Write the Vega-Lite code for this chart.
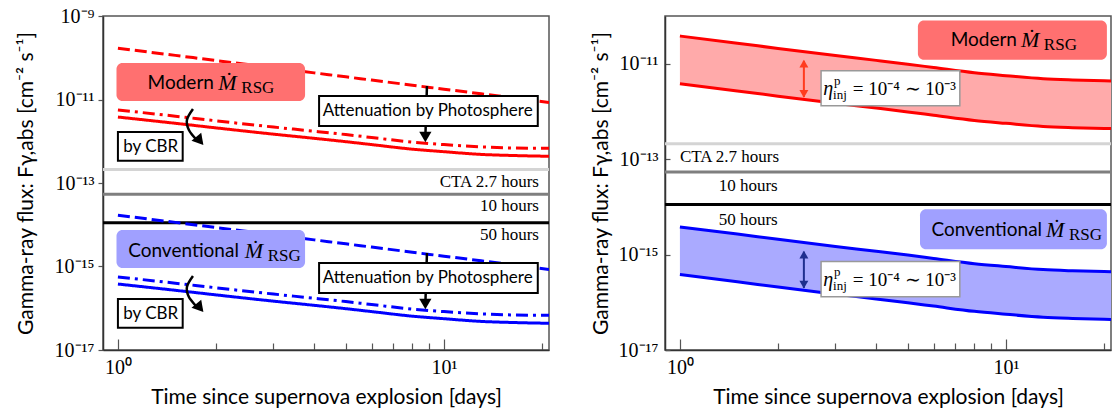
{
"$schema":"https://vega.github.io/schema/vega-lite/v6.json",
"padding":{"left":14,"top":5,"right":0,"bottom":0},
"spacing":37,
"config":{
 "view":{"stroke":"#555","strokeWidth":1.5},
 "axis":{"grid":false,"domainColor":"#333","domainWidth":1.5,"tickColor":"#555","tickWidth":1.2,"labelFont":"Liberation Serif","labelFontSize":20,"labelColor":"#000","titleFont":"Lato","titleFontSize":21,"titleFontWeight":"normal","titleColor":"#000","labelOverlap":false,"labelFlush":false},
 "text":{"baseline":"middle","color":"#000"}
},
"datasets":{
 "cta":[{"F":2.1e-13,"lvl":"2.7h"},{"F":5.4e-14,"lvl":"10h"},{"F":1.12e-14,"lvl":"50h"}],
 "lines":[
  {"m":"Modern","s":"solid","t":1,"F":3.802e-12},{"m":"Modern","s":"solid","t":1.5,"F":2.692e-12},{"m":"Modern","s":"solid","t":2,"F":2.089e-12},{"m":"Modern","s":"solid","t":3,"F":1.479e-12},{"m":"Modern","s":"solid","t":4,"F":1.175e-12},{"m":"Modern","s":"solid","t":5,"F":9.772e-13},{"m":"Modern","s":"solid","t":6,"F":8.318e-13},{"m":"Modern","s":"solid","t":8,"F":6.457e-13},{"m":"Modern","s":"solid","t":10,"F":5.623e-13},{"m":"Modern","s":"solid","t":13,"F":4.842e-13},{"m":"Modern","s":"solid","t":16,"F":4.571e-13},{"m":"Modern","s":"solid","t":21,"F":4.365e-13},
  {"m":"Modern","s":"dashdot","t":1,"F":5.623e-12},{"m":"Modern","s":"dashdot","t":1.5,"F":3.981e-12},{"m":"Modern","s":"dashdot","t":2,"F":3.090e-12},{"m":"Modern","s":"dashdot","t":3,"F":2.188e-12},{"m":"Modern","s":"dashdot","t":4,"F":1.738e-12},{"m":"Modern","s":"dashdot","t":5,"F":1.445e-12},{"m":"Modern","s":"dashdot","t":6,"F":1.230e-12},{"m":"Modern","s":"dashdot","t":8,"F":9.550e-13},{"m":"Modern","s":"dashdot","t":10,"F":8.318e-13},{"m":"Modern","s":"dashdot","t":13,"F":7.328e-13},{"m":"Modern","s":"dashdot","t":16,"F":6.918e-13},{"m":"Modern","s":"dashdot","t":21,"F":6.761e-13},
  {"m":"Modern","s":"dashed","t":1,"F":1.698e-10},{"m":"Modern","s":"dashed","t":1.5,"F":1.140e-10},{"m":"Modern","s":"dashed","t":2,"F":8.590e-11},{"m":"Modern","s":"dashed","t":3,"F":5.768e-11},{"m":"Modern","s":"dashed","t":4,"F":4.345e-11},{"m":"Modern","s":"dashed","t":5,"F":3.491e-11},{"m":"Modern","s":"dashed","t":6,"F":2.917e-11},{"m":"Modern","s":"dashed","t":8,"F":2.198e-11},{"m":"Modern","s":"dashed","t":10,"F":1.766e-11},{"m":"Modern","s":"dashed","t":13,"F":1.365e-11},{"m":"Modern","s":"dashed","t":16,"F":1.112e-11},{"m":"Modern","s":"dashed","t":21,"F":8.511e-12},
  {"m":"Conventional","s":"solid","t":1,"F":3.802e-16},{"m":"Conventional","s":"solid","t":1.5,"F":2.692e-16},{"m":"Conventional","s":"solid","t":2,"F":2.089e-16},{"m":"Conventional","s":"solid","t":3,"F":1.479e-16},{"m":"Conventional","s":"solid","t":4,"F":1.175e-16},{"m":"Conventional","s":"solid","t":5,"F":9.772e-17},{"m":"Conventional","s":"solid","t":6,"F":8.318e-17},{"m":"Conventional","s":"solid","t":8,"F":6.457e-17},{"m":"Conventional","s":"solid","t":10,"F":5.623e-17},{"m":"Conventional","s":"solid","t":13,"F":4.842e-17},{"m":"Conventional","s":"solid","t":16,"F":4.571e-17},{"m":"Conventional","s":"solid","t":21,"F":4.365e-17},
  {"m":"Conventional","s":"dashdot","t":1,"F":5.623e-16},{"m":"Conventional","s":"dashdot","t":1.5,"F":3.981e-16},{"m":"Conventional","s":"dashdot","t":2,"F":3.090e-16},{"m":"Conventional","s":"dashdot","t":3,"F":2.188e-16},{"m":"Conventional","s":"dashdot","t":4,"F":1.738e-16},{"m":"Conventional","s":"dashdot","t":5,"F":1.445e-16},{"m":"Conventional","s":"dashdot","t":6,"F":1.230e-16},{"m":"Conventional","s":"dashdot","t":8,"F":9.550e-17},{"m":"Conventional","s":"dashdot","t":10,"F":8.318e-17},{"m":"Conventional","s":"dashdot","t":13,"F":7.328e-17},{"m":"Conventional","s":"dashdot","t":16,"F":6.918e-17},{"m":"Conventional","s":"dashdot","t":21,"F":6.761e-17},
  {"m":"Conventional","s":"dashed","t":1,"F":1.698e-14},{"m":"Conventional","s":"dashed","t":1.5,"F":1.140e-14},{"m":"Conventional","s":"dashed","t":2,"F":8.590e-15},{"m":"Conventional","s":"dashed","t":3,"F":5.768e-15},{"m":"Conventional","s":"dashed","t":4,"F":4.345e-15},{"m":"Conventional","s":"dashed","t":5,"F":3.491e-15},{"m":"Conventional","s":"dashed","t":6,"F":2.917e-15},{"m":"Conventional","s":"dashed","t":8,"F":2.198e-15},{"m":"Conventional","s":"dashed","t":10,"F":1.766e-15},{"m":"Conventional","s":"dashed","t":13,"F":1.365e-15},{"m":"Conventional","s":"dashed","t":16,"F":1.112e-15},{"m":"Conventional","s":"dashed","t":21,"F":8.511e-16}
 ],
 "band":[
  {"m":"Modern","t":1,"lo":3.802e-12,"hi":3.802e-11},{"m":"Modern","t":1.5,"lo":2.692e-12,"hi":2.692e-11},{"m":"Modern","t":2,"lo":2.089e-12,"hi":2.089e-11},{"m":"Modern","t":3,"lo":1.479e-12,"hi":1.479e-11},{"m":"Modern","t":4,"lo":1.175e-12,"hi":1.175e-11},{"m":"Modern","t":5,"lo":9.772e-13,"hi":9.772e-12},{"m":"Modern","t":6,"lo":8.318e-13,"hi":8.318e-12},{"m":"Modern","t":8,"lo":6.457e-13,"hi":6.457e-12},{"m":"Modern","t":10,"lo":5.623e-13,"hi":5.623e-12},{"m":"Modern","t":13,"lo":4.842e-13,"hi":4.842e-12},{"m":"Modern","t":16,"lo":4.571e-13,"hi":4.571e-12},{"m":"Modern","t":21,"lo":4.365e-13,"hi":4.365e-12},
  {"m":"Conventional","t":1,"lo":3.802e-16,"hi":3.802e-15},{"m":"Conventional","t":1.5,"lo":2.692e-16,"hi":2.692e-15},{"m":"Conventional","t":2,"lo":2.089e-16,"hi":2.089e-15},{"m":"Conventional","t":3,"lo":1.479e-16,"hi":1.479e-15},{"m":"Conventional","t":4,"lo":1.175e-16,"hi":1.175e-15},{"m":"Conventional","t":5,"lo":9.772e-17,"hi":9.772e-16},{"m":"Conventional","t":6,"lo":8.318e-17,"hi":8.318e-16},{"m":"Conventional","t":8,"lo":6.457e-17,"hi":6.457e-16},{"m":"Conventional","t":10,"lo":5.623e-17,"hi":5.623e-16},{"m":"Conventional","t":13,"lo":4.842e-17,"hi":4.842e-16},{"m":"Conventional","t":16,"lo":4.571e-17,"hi":4.571e-16},{"m":"Conventional","t":21,"lo":4.365e-17,"hi":4.365e-16}
 ],
 "arrL":[
  {"id":"p1","o":0,"t":8.87,"F":2.1e-11},{"id":"p1","o":1,"t":8.77,"F":1.3e-12},
  {"id":"p2","o":0,"t":8.87,"F":2.1e-15},{"id":"p2","o":1,"t":8.77,"F":1.3e-16},
  {"id":"c1","o":0,"t":1.699,"F":5.92e-12},{"id":"c1","o":1,"t":1.628,"F":3.24e-12},{"id":"c1","o":2,"t":1.651,"F":1.86e-12},{"id":"c1","o":3,"t":1.735,"F":1.13e-12},
  {"id":"c2","o":0,"t":1.699,"F":5.92e-16},{"id":"c2","o":1,"t":1.628,"F":3.24e-16},{"id":"c2","o":2,"t":1.651,"F":1.86e-16},{"id":"c2","o":3,"t":1.735,"F":1.13e-16}
 ],
 "annL":[
  {"k":"box","m":"Modern","t":0.99,"t2":3.75,"F":9.2e-12,"F2":7.48e-11},
  {"k":"box","m":"Conventional","t":0.99,"t2":3.75,"F":9.2e-16,"F2":7.48e-15},
  {"k":"wbox","t":1.0,"t2":1.58,"F":3.39e-13,"F2":1.66e-12},
  {"k":"wbox","t":1.0,"t2":1.58,"F":3.39e-17,"F2":1.66e-16},
  {"k":"wbox","t":4.14,"t2":19.4,"F":2.32e-12,"F2":1.21e-11},
  {"k":"wbox","t":4.14,"t2":19.4,"F":2.32e-16,"F2":1.21e-15},
  {"k":"hdown","t":8.77,"F":1.26e-12},
  {"k":"hdown","t":8.77,"F":1.26e-16},
  {"k":"hcurve","t":1.784,"F":1.02e-12},
  {"k":"hcurve","t":1.784,"F":1.02e-16},
  {"k":"cta","t":19.56,"F":1.05e-13,"label":"CTA 2.7 hours"},
  {"k":"cta","t":19.56,"F":2.82e-14,"label":"10 hours"},
  {"k":"cta","t":19.56,"F":5.62e-15,"label":"50 hours"},
  {"k":"note","t":1.26,"F":7.24e-13,"label":"by CBR"},
  {"k":"note","t":1.26,"F":7.24e-17,"label":"by CBR"},
  {"k":"note","t":8.92,"F":5.31e-12,"label":"Attenuation by Photosphere"},
  {"k":"note","t":8.92,"F":5.31e-16,"label":"Attenuation by Photosphere"},
  {"k":"name","t":1.97,"F":2.51e-11,"label":"Modern"},
  {"k":"name","t":2.35,"F":2.3e-15,"label":"Conventional"},
  {"k":"mdot","t":2.03,"F":2.51e-11,"label":"Ṁ"},
  {"k":"mdot","t":2.45,"F":2.3e-15,"label":"Ṁ"},
  {"k":"sub","t":2.39,"F":2.51e-11,"label":"RSG"},
  {"k":"sub","t":2.88,"F":2.3e-15,"label":"RSG"}
 ],
 "annR":[
  {"k":"box","m":"Modern","t":5.37,"t2":20.4,"F":1.21e-11,"F2":8.0e-11},
  {"k":"box","m":"Conventional","t":5.45,"t2":20.4,"F":1.29e-15,"F2":8.9e-15},
  {"k":"ebox","t":2.71,"t2":7.22,"F":1.31e-12,"F2":7.13e-12},
  {"k":"ebox","t":2.71,"t2":7.22,"F":1.31e-16,"F2":7.13e-16},
  {"k":"arrow","m":"Modern","t":2.40,"F":1.15e-11,"F2":2.0e-12},
  {"k":"arrow","m":"Conventional","t":2.40,"F":1.15e-15,"F2":2.0e-16},
  {"k":"hup","m":"Modern","t":2.40,"F":1.0e-11},
  {"k":"hup","m":"Conventional","t":2.40,"F":1.0e-15},
  {"k":"hdown","m":"Modern","t":2.40,"F":2.34e-12},
  {"k":"hdown","m":"Conventional","t":2.40,"F":2.34e-16},
  {"k":"cta1","t":1.0,"F":1.12e-13,"label":"CTA 2.7 hours"},
  {"k":"cta2","t":1.62,"F":2.75e-14,"label":"10 hours"},
  {"k":"cta2","t":1.62,"F":5.25e-15,"label":"50 hours"},
  {"k":"name","t":10.81,"F":3.16e-11,"label":"Modern"},
  {"k":"name","t":12.91,"F":3.24e-15,"label":"Conventional"},
  {"k":"mdot","t":11.13,"F":3.16e-11,"label":"Ṁ"},
  {"k":"mdot","t":13.27,"F":3.24e-15,"label":"Ṁ"},
  {"k":"sub","t":13.07,"F":3.16e-11,"label":"RSG"},
  {"k":"sub","t":15.6,"F":3.24e-15,"label":"RSG"},
  {"k":"eta","t":2.75,"F":2.99e-12,"label":"η"},
  {"k":"eta","t":2.75,"F":2.99e-16,"label":"η"},
  {"k":"sup","t":2.97,"F":2.99e-12,"label":"p"},
  {"k":"sup","t":2.97,"F":2.99e-16,"label":"p"},
  {"k":"inj","t":2.95,"F":2.99e-12,"label":"inj"},
  {"k":"inj","t":2.95,"F":2.99e-16,"label":"inj"},
  {"k":"eq","t":3.39,"F":2.99e-12,"label":"= 10⁻⁴ ∼ 10⁻³"},
  {"k":"eq","t":3.39,"F":2.99e-16,"label":"= 10⁻⁴ ∼ 10⁻³"}
 ]
},
"hconcat":[
 {
  "width":446,"height":334,
  "resolve":{"scale":{"color":"independent"}},
  "layer":[
   {"data":{"name":"cta"},"mark":{"type":"rule","strokeWidth":3},
    "encoding":{"y":{"field":"F","type":"quantitative","scale":{"type":"log","domain":[1e-17,1e-9],"nice":false}},
     "color":{"field":"lvl","type":"nominal","scale":{"domain":["2.7h","10h","50h"],"range":["#d4d4d4","#7f7f7f","#000000"]},"legend":null}}},
   {"data":{"name":"lines"},"mark":{"type":"line","strokeWidth":3,"interpolate":"monotone","clip":true},
    "encoding":{
     "x":{"field":"t","type":"quantitative","scale":{"type":"log","domain":[0.9,21],"nice":false},
      "axis":{"title":"Time since supernova explosion [days]","values":[1,2,3,4,5,6,7,8,9,10,20],"labelExpr":"datum.value == 1 ? '10⁰' : datum.value == 10 ? '10¹' : ''","tickSize":{"condition":{"test":"datum.value == 1 || datum.value == 10","value":-11},"value":-7},"labelPadding":18,"titlePadding":5}},
     "y":{"field":"F","type":"quantitative","scale":{"type":"log","domain":[1e-17,1e-9],"nice":false},
      "axis":{"title":"Gamma-ray flux: Fγ,abs [cm⁻² s⁻¹]","values":[1e-17,1e-15,1e-13,1e-11,1e-9],"labelExpr":"'10' + (round(log(datum.value)/LN10) == -9 ? '⁻⁹' : round(log(datum.value)/LN10) == -11 ? '⁻¹¹' : round(log(datum.value)/LN10) == -13 ? '⁻¹³' : round(log(datum.value)/LN10) == -15 ? '⁻¹⁵' : '⁻¹⁷')","tickSize":5,"labelPadding":4,"titlePadding":18}},
     "color":{"field":"m","type":"nominal","scale":{"domain":["Modern","Conventional"],"range":["#ff0000","#0000ff"]},"legend":null},
     "strokeDash":{"field":"s","type":"nominal","scale":{"domain":["dashed","dashdot","solid"],"range":[[12,5],[12,5,3,5],[1,0]]},"legend":null}}},
   {"data":{"name":"arrL"},"mark":{"type":"line","color":"#000","strokeWidth":2.5,"interpolate":"cardinal"},
    "encoding":{"x":{"field":"t","type":"quantitative","scale":{"type":"log","domain":[0.9,21],"nice":false}},
     "y":{"field":"F","type":"quantitative","scale":{"type":"log","domain":[1e-17,1e-9],"nice":false}},
     "detail":{"field":"id","type":"nominal"},"order":{"field":"o","type":"quantitative"}}},
   {"data":{"name":"annL"},"transform":[{"filter":"datum.k == 'box'"}],"mark":{"type":"rect","cornerRadius":6},
    "encoding":{"x":{"field":"t","type":"quantitative","scale":{"type":"log","domain":[0.9,21],"nice":false}},"x2":{"field":"t2"},
     "y":{"field":"F","type":"quantitative","scale":{"type":"log","domain":[1e-17,1e-9],"nice":false}},"y2":{"field":"F2"},
     "color":{"field":"m","type":"nominal","scale":{"domain":["Modern","Conventional"],"range":["#ff7070","#a0a0ff"]},"legend":null}}},
   {"data":{"name":"annL"},"transform":[{"filter":"datum.k == 'wbox'"}],"mark":{"type":"rect","fill":"#ffffff","stroke":"#000000","strokeWidth":2},
    "encoding":{"x":{"field":"t","type":"quantitative","scale":{"type":"log","domain":[0.9,21],"nice":false}},"x2":{"field":"t2"},
     "y":{"field":"F","type":"quantitative","scale":{"type":"log","domain":[1e-17,1e-9],"nice":false}},"y2":{"field":"F2"}}},
   {"data":{"name":"annL"},"transform":[{"filter":"datum.k == 'hdown'"}],"mark":{"type":"point","shape":"triangle-down","filled":true,"color":"#000","size":150,"opacity":1},
    "encoding":{"x":{"field":"t","type":"quantitative","scale":{"type":"log","domain":[0.9,21],"nice":false}},
     "y":{"field":"F","type":"quantitative","scale":{"type":"log","domain":[1e-17,1e-9],"nice":false}}}},
   {"data":{"name":"annL"},"transform":[{"filter":"datum.k == 'hcurve'"}],"mark":{"type":"point","shape":"triangle-right","angle":50,"filled":true,"color":"#000","size":160,"opacity":1},
    "encoding":{"x":{"field":"t","type":"quantitative","scale":{"type":"log","domain":[0.9,21],"nice":false}},
     "y":{"field":"F","type":"quantitative","scale":{"type":"log","domain":[1e-17,1e-9],"nice":false}}}},
   {"data":{"name":"annL"},"transform":[{"filter":"datum.k == 'cta'"}],"mark":{"type":"text","align":"right","font":"Liberation Serif","fontSize":17},
    "encoding":{"x":{"field":"t","type":"quantitative","scale":{"type":"log","domain":[0.9,21],"nice":false}},
     "y":{"field":"F","type":"quantitative","scale":{"type":"log","domain":[1e-17,1e-9],"nice":false}},"text":{"field":"label"}}},
   {"data":{"name":"annL"},"transform":[{"filter":"datum.k == 'note'"}],"mark":{"type":"text","align":"center","font":"Lato","fontSize":17},
    "encoding":{"x":{"field":"t","type":"quantitative","scale":{"type":"log","domain":[0.9,21],"nice":false}},
     "y":{"field":"F","type":"quantitative","scale":{"type":"log","domain":[1e-17,1e-9],"nice":false}},"text":{"field":"label"}}},
   {"data":{"name":"annL"},"transform":[{"filter":"datum.k == 'name'"}],"mark":{"type":"text","align":"right","font":"Lato","fontSize":19},
    "encoding":{"x":{"field":"t","type":"quantitative","scale":{"type":"log","domain":[0.9,21],"nice":false}},
     "y":{"field":"F","type":"quantitative","scale":{"type":"log","domain":[1e-17,1e-9],"nice":false}},"text":{"field":"label"}}},
   {"data":{"name":"annL"},"transform":[{"filter":"datum.k == 'mdot'"}],"mark":{"type":"text","align":"left","font":"Liberation Serif","fontStyle":"italic","fontSize":22},
    "encoding":{"x":{"field":"t","type":"quantitative","scale":{"type":"log","domain":[0.9,21],"nice":false}},
     "y":{"field":"F","type":"quantitative","scale":{"type":"log","domain":[1e-17,1e-9],"nice":false}},"text":{"field":"label"}}},
   {"data":{"name":"annL"},"transform":[{"filter":"datum.k == 'sub'"}],"mark":{"type":"text","align":"left","font":"Liberation Serif","fontSize":17,"dy":5},
    "encoding":{"x":{"field":"t","type":"quantitative","scale":{"type":"log","domain":[0.9,21],"nice":false}},
     "y":{"field":"F","type":"quantitative","scale":{"type":"log","domain":[1e-17,1e-9],"nice":false}},"text":{"field":"label"}}}
  ]
 },
 {
  "width":446,"height":334,
  "resolve":{"scale":{"color":"independent"}},
  "layer":[
   {"data":{"name":"cta"},"mark":{"type":"rule","strokeWidth":3},
    "encoding":{"y":{"field":"F","type":"quantitative","scale":{"type":"log","domain":[1e-17,1e-10],"nice":false}},
     "color":{"field":"lvl","type":"nominal","scale":{"domain":["2.7h","10h","50h"],"range":["#d4d4d4","#7f7f7f","#000000"]},"legend":null}}},
   {"data":{"name":"band"},"mark":{"type":"area","interpolate":"monotone","opacity":1},
    "encoding":{
     "x":{"field":"t","type":"quantitative","scale":{"type":"log","domain":[0.9,21],"nice":false},
      "axis":{"title":"Time since supernova explosion [days]","values":[1,2,3,4,5,6,7,8,9,10,20],"labelExpr":"datum.value == 1 ? '10⁰' : datum.value == 10 ? '10¹' : ''","tickSize":{"condition":{"test":"datum.value == 1 || datum.value == 10","value":-11},"value":-7},"labelPadding":18,"titlePadding":5}},
     "y":{"field":"lo","type":"quantitative","scale":{"type":"log","domain":[1e-17,1e-10],"nice":false},
      "axis":{"title":"Gamma-ray flux: Fγ,abs [cm⁻² s⁻¹]","values":[1e-17,1e-15,1e-13,1e-11],"labelExpr":"'10' + (round(log(datum.value)/LN10) == -9 ? '⁻⁹' : round(log(datum.value)/LN10) == -11 ? '⁻¹¹' : round(log(datum.value)/LN10) == -13 ? '⁻¹³' : round(log(datum.value)/LN10) == -15 ? '⁻¹⁵' : '⁻¹⁷')","tickSize":-5,"labelPadding":12,"titlePadding":7}},
     "y2":{"field":"hi"},
     "color":{"field":"m","type":"nominal","scale":{"domain":["Modern","Conventional"],"range":["#ffaaaa","#aaaaff"]},"legend":null}}},
   {"data":{"name":"band"},"mark":{"type":"line","strokeWidth":3,"interpolate":"monotone"},
    "encoding":{"x":{"field":"t","type":"quantitative","scale":{"type":"log","domain":[0.9,21],"nice":false}},
     "y":{"field":"lo","type":"quantitative","scale":{"type":"log","domain":[1e-17,1e-10],"nice":false}},
     "color":{"field":"m","type":"nominal","scale":{"domain":["Modern","Conventional"],"range":["#ff0000","#0000ff"]},"legend":null}}},
   {"data":{"name":"band"},"mark":{"type":"line","strokeWidth":3,"interpolate":"monotone"},
    "encoding":{"x":{"field":"t","type":"quantitative","scale":{"type":"log","domain":[0.9,21],"nice":false}},
     "y":{"field":"hi","type":"quantitative","scale":{"type":"log","domain":[1e-17,1e-10],"nice":false}},
     "color":{"field":"m","type":"nominal","scale":{"domain":["Modern","Conventional"],"range":["#ff0000","#0000ff"]},"legend":null}}},
   {"data":{"name":"annR"},"transform":[{"filter":"datum.k == 'box'"}],"mark":{"type":"rect","cornerRadius":6},
    "encoding":{"x":{"field":"t","type":"quantitative","scale":{"type":"log","domain":[0.9,21],"nice":false}},"x2":{"field":"t2"},
     "y":{"field":"F","type":"quantitative","scale":{"type":"log","domain":[1e-17,1e-10],"nice":false}},"y2":{"field":"F2"},
     "color":{"field":"m","type":"nominal","scale":{"domain":["Modern","Conventional"],"range":["#ff7070","#a0a0ff"]},"legend":null}}},
   {"data":{"name":"annR"},"transform":[{"filter":"datum.k == 'ebox'"}],"mark":{"type":"rect","fill":"#ffffff","stroke":"#999999","strokeWidth":1.5},
    "encoding":{"x":{"field":"t","type":"quantitative","scale":{"type":"log","domain":[0.9,21],"nice":false}},"x2":{"field":"t2"},
     "y":{"field":"F","type":"quantitative","scale":{"type":"log","domain":[1e-17,1e-10],"nice":false}},"y2":{"field":"F2"}}},
   {"data":{"name":"annR"},"transform":[{"filter":"datum.k == 'arrow'"}],"mark":{"type":"rule","strokeWidth":2},
    "encoding":{"x":{"field":"t","type":"quantitative","scale":{"type":"log","domain":[0.9,21],"nice":false}},
     "y":{"field":"F","type":"quantitative","scale":{"type":"log","domain":[1e-17,1e-10],"nice":false}},"y2":{"field":"F2"},
     "color":{"field":"m","type":"nominal","scale":{"domain":["Modern","Conventional"],"range":["#ff3b1f","#1f2f8f"]},"legend":null}}},
   {"data":{"name":"annR"},"transform":[{"filter":"datum.k == 'hup'"}],"mark":{"type":"point","shape":"triangle-up","filled":true,"size":80,"opacity":1},
    "encoding":{"x":{"field":"t","type":"quantitative","scale":{"type":"log","domain":[0.9,21],"nice":false}},
     "y":{"field":"F","type":"quantitative","scale":{"type":"log","domain":[1e-17,1e-10],"nice":false}},
     "color":{"field":"m","type":"nominal","scale":{"domain":["Modern","Conventional"],"range":["#ff3b1f","#1f2f8f"]},"legend":null}}},
   {"data":{"name":"annR"},"transform":[{"filter":"datum.k == 'hdown'"}],"mark":{"type":"point","shape":"triangle-down","filled":true,"size":80,"opacity":1},
    "encoding":{"x":{"field":"t","type":"quantitative","scale":{"type":"log","domain":[0.9,21],"nice":false}},
     "y":{"field":"F","type":"quantitative","scale":{"type":"log","domain":[1e-17,1e-10],"nice":false}},
     "color":{"field":"m","type":"nominal","scale":{"domain":["Modern","Conventional"],"range":["#ff3b1f","#1f2f8f"]},"legend":null}}},
   {"data":{"name":"annR"},"transform":[{"filter":"datum.k == 'cta1'"}],"mark":{"type":"text","align":"left","font":"Liberation Serif","fontSize":17},
    "encoding":{"x":{"field":"t","type":"quantitative","scale":{"type":"log","domain":[0.9,21],"nice":false}},
     "y":{"field":"F","type":"quantitative","scale":{"type":"log","domain":[1e-17,1e-10],"nice":false}},"text":{"field":"label"}}},
   {"data":{"name":"annR"},"transform":[{"filter":"datum.k == 'cta2'"}],"mark":{"type":"text","align":"center","font":"Liberation Serif","fontSize":17},
    "encoding":{"x":{"field":"t","type":"quantitative","scale":{"type":"log","domain":[0.9,21],"nice":false}},
     "y":{"field":"F","type":"quantitative","scale":{"type":"log","domain":[1e-17,1e-10],"nice":false}},"text":{"field":"label"}}},
   {"data":{"name":"annR"},"transform":[{"filter":"datum.k == 'name'"}],"mark":{"type":"text","align":"right","font":"Lato","fontSize":19},
    "encoding":{"x":{"field":"t","type":"quantitative","scale":{"type":"log","domain":[0.9,21],"nice":false}},
     "y":{"field":"F","type":"quantitative","scale":{"type":"log","domain":[1e-17,1e-10],"nice":false}},"text":{"field":"label"}}},
   {"data":{"name":"annR"},"transform":[{"filter":"datum.k == 'mdot'"}],"mark":{"type":"text","align":"left","font":"Liberation Serif","fontStyle":"italic","fontSize":22},
    "encoding":{"x":{"field":"t","type":"quantitative","scale":{"type":"log","domain":[0.9,21],"nice":false}},
     "y":{"field":"F","type":"quantitative","scale":{"type":"log","domain":[1e-17,1e-10],"nice":false}},"text":{"field":"label"}}},
   {"data":{"name":"annR"},"transform":[{"filter":"datum.k == 'sub'"}],"mark":{"type":"text","align":"left","font":"Liberation Serif","fontSize":17,"dy":5},
    "encoding":{"x":{"field":"t","type":"quantitative","scale":{"type":"log","domain":[0.9,21],"nice":false}},
     "y":{"field":"F","type":"quantitative","scale":{"type":"log","domain":[1e-17,1e-10],"nice":false}},"text":{"field":"label"}}},
   {"data":{"name":"annR"},"transform":[{"filter":"datum.k == 'eta'"}],"mark":{"type":"text","align":"left","font":"Liberation Serif","fontStyle":"italic","fontSize":20},
    "encoding":{"x":{"field":"t","type":"quantitative","scale":{"type":"log","domain":[0.9,21],"nice":false}},
     "y":{"field":"F","type":"quantitative","scale":{"type":"log","domain":[1e-17,1e-10],"nice":false}},"text":{"field":"label"}}},
   {"data":{"name":"annR"},"transform":[{"filter":"datum.k == 'sup'"}],"mark":{"type":"text","align":"left","font":"Liberation Serif","fontSize":13,"dy":-8},
    "encoding":{"x":{"field":"t","type":"quantitative","scale":{"type":"log","domain":[0.9,21],"nice":false}},
     "y":{"field":"F","type":"quantitative","scale":{"type":"log","domain":[1e-17,1e-10],"nice":false}},"text":{"field":"label"}}},
   {"data":{"name":"annR"},"transform":[{"filter":"datum.k == 'inj'"}],"mark":{"type":"text","align":"left","font":"Liberation Serif","fontSize":13,"dy":6},
    "encoding":{"x":{"field":"t","type":"quantitative","scale":{"type":"log","domain":[0.9,21],"nice":false}},
     "y":{"field":"F","type":"quantitative","scale":{"type":"log","domain":[1e-17,1e-10],"nice":false}},"text":{"field":"label"}}},
   {"data":{"name":"annR"},"transform":[{"filter":"datum.k == 'eq'"}],"mark":{"type":"text","align":"left","font":"Liberation Serif","fontSize":19},
    "encoding":{"x":{"field":"t","type":"quantitative","scale":{"type":"log","domain":[0.9,21],"nice":false}},
     "y":{"field":"F","type":"quantitative","scale":{"type":"log","domain":[1e-17,1e-10],"nice":false}},"text":{"field":"label"}}}
  ]
 }
]
}
